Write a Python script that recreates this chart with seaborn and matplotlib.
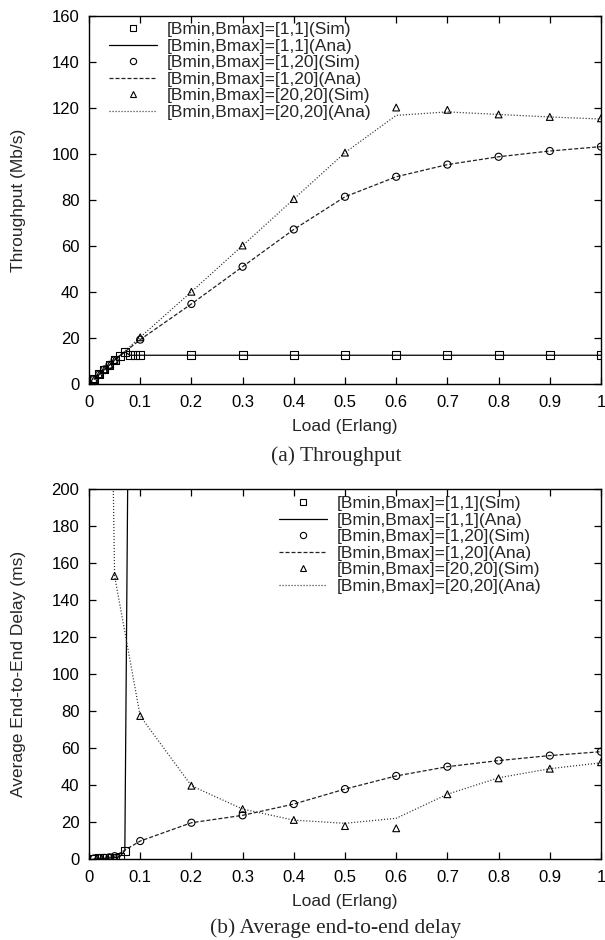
import matplotlib
matplotlib.use("Agg")
import matplotlib.pyplot as plt
from matplotlib.lines import Line2D
import seaborn as sns

# ---------------- data ----------------
# offered load (Erlang)
load_fine = [0.01, 0.02, 0.03, 0.04, 0.05, 0.06, 0.07, 0.08, 0.09, 0.1,
             0.2, 0.3, 0.4, 0.5, 0.6, 0.7, 0.8, 0.9, 1.0]
load_coarse = [0.01, 0.02, 0.03, 0.04, 0.05,
               0.1, 0.2, 0.3, 0.4, 0.5, 0.6, 0.7, 0.8, 0.9, 1.0]

# throughput (Mb/s)
thr_1_1_sim = [2.1, 4.2, 6.3, 8.3, 10.4, 12.3, 14.0, 12.5, 12.5, 12.5,
               12.5, 12.5, 12.5, 12.5, 12.5, 12.5, 12.5, 12.5, 12.5]
thr_1_1_ana = [2.1, 4.2, 6.3, 8.3, 10.4, 12.3, 14.0, 12.5, 12.5, 12.5,
               12.5, 12.5, 12.5, 12.5, 12.5, 12.5, 12.5, 12.5, 12.5]
thr_1_20_sim = [2.1, 4.2, 6.3, 8.3, 10.4,
                19.3, 34.8, 51.0, 67.2, 81.4, 90.1, 95.4, 98.8, 101.3, 103.2]
thr_1_20_ana = [2.1, 4.2, 6.3, 8.3, 10.4,
                19.3, 34.8, 51.0, 67.2, 81.4, 90.1, 95.4, 98.8, 101.3, 103.2]
thr_20_20_sim = [2.1, 4.2, 6.3, 8.3, 10.4,
                 20.3, 40.1, 60.2, 80.4, 100.6, 120.2, 119.2, 117.2, 116.1, 115.5]
thr_20_20_ana = [2.1, 4.2, 6.3, 8.3, 10.4,
                 20.3, 40.1, 60.2, 80.4, 100.6, 116.8, 118.3, 117.2, 116.1, 115.2]

# average end-to-end delay (ms)
load_dly_1_1_sim = [0.01, 0.02, 0.03, 0.04, 0.05, 0.06, 0.07]
dly_1_1_sim = [0.3, 0.35, 0.4, 0.5, 0.7, 1.2, 4.5]
load_dly_1_1_ana = [0.01, 0.02, 0.03, 0.04, 0.05, 0.06, 0.07, 0.08, 0.09, 0.1]
dly_1_1_ana = [0.3, 0.35, 0.4, 0.5, 0.7, 1.2, 4.5, 360.0, 900.0, 1500.0]
dly_1_20_sim = [0.3, 0.4, 0.6, 0.9, 1.5,
                9.7, 19.6, 23.6, 29.7, 37.8, 44.9, 49.9, 53.2, 55.9, 58.0]
dly_1_20_ana = [0.3, 0.4, 0.6, 0.9, 1.5,
                9.7, 19.6, 23.6, 29.7, 37.8, 44.9, 49.9, 53.2, 55.9, 58.0]
dly_20_20_sim = [1400.0, 900.0, 560.0, 340.0, 153.0,
                 77.3, 39.6, 27.0, 21.1, 17.8, 16.6, 35.0, 43.6, 48.8, 52.3]
dly_20_20_ana = [1400.0, 900.0, 560.0, 340.0, 153.0,
                 77.3, 39.6, 27.0, 21.0, 19.3, 22.0, 35.0, 43.9, 48.8, 52.0]

labels = ["[Bmin,Bmax]=[1,1](Sim)", "[Bmin,Bmax]=[1,1](Ana)",
          "[Bmin,Bmax]=[1,20](Sim)", "[Bmin,Bmax]=[1,20](Ana)",
          "[Bmin,Bmax]=[20,20](Sim)", "[Bmin,Bmax]=[20,20](Ana)"]
x_ticks = [0, 0.1, 0.2, 0.3, 0.4, 0.5, 0.6, 0.7, 0.8, 0.9, 1]
x_ticklabels = ["0", "0.1", "0.2", "0.3", "0.4", "0.5", "0.6", "0.7", "0.8", "0.9", "1"]

# ---------------- style ----------------
sns.set_style("ticks")
plt.rcParams["font.family"] = ["Liberation Sans", "DejaVu Sans"]
plt.rcParams["axes.linewidth"] = 1.0

LS_SOLID = "-"
LS_DASH = (0, (3.2, 1.6))
LS_DOT = (0, (0.9, 1.5))
MARK = {"s": 32, "o": 26, "^": 24}

fig = plt.figure(figsize=(6.05, 9.4), dpi=100)
W, H = 605.0, 940.0
ax_thr = fig.add_axes([89 / W, 1 - 384 / H, 512 / W, 368 / H])
ax_dly = fig.add_axes([89 / W, 1 - 859 / H, 512 / W, 370 / H])


def draw_series(ax, xs, ys, xa, ya, marker, ls, color):
    sns.lineplot(x=xa, y=ya, ax=ax, color=color, linewidth=0.9,
                 linestyle=ls, estimator=None, sort=False, zorder=2)
    sns.scatterplot(x=xs, y=ys, ax=ax, marker=marker, s=MARK[marker],
                    facecolor="none", edgecolor="black", linewidth=0.8,
                    zorder=3, legend=False)


def legend_handles():
    mk = dict(ls="none", mfc="none", mec="black", mew=0.8)
    return [
        Line2D([], [], marker="s", ms=5.0, **mk),
        Line2D([], [], color="black", lw=0.9, ls=LS_SOLID),
        Line2D([], [], marker="o", ms=4.5, **mk),
        Line2D([], [], color="#222222", lw=0.9, ls=LS_DASH),
        Line2D([], [], marker="^", ms=4.5, **mk),
        Line2D([], [], color="#333333", lw=0.9, ls=LS_DOT),
    ]


def finish(ax, ymax, ystep, ylabel, anchor):
    ax.set_xlim(0, 1)
    ax.set_ylim(0, ymax)
    ax.set_xticks(x_ticks)
    ax.set_xticklabels(x_ticklabels)
    ax.set_yticks(list(range(0, ymax + 1, ystep)))
    ax.tick_params(direction="in", length=5, width=0.9, top=True, right=True,
                   labelsize=12, colors="black")
    ax.tick_params(axis="x", pad=8)
    ax.tick_params(axis="y", pad=7)
    for s in ax.spines.values():
        s.set_visible(True)
        s.set_color("black")
    ax.set_xlabel("Load (Erlang)", fontsize=12.5)
    ax.set_ylabel(ylabel, fontsize=12.5)
    ax.xaxis.set_label_coords(0.5, -0.095)
    ax.yaxis.set_label_coords(-0.123, 0.5)
    ax.legend(legend_handles(), labels, loc="upper left", bbox_to_anchor=anchor,
              frameon=False, fontsize=12.5, handlelength=2.75, handletextpad=0.55,
              labelspacing=0.08, borderpad=0.0, borderaxespad=0.0, numpoints=1)


# throughput panel
draw_series(ax_thr, load_fine, thr_1_1_sim, load_fine, thr_1_1_ana, "s", LS_SOLID, "black")
draw_series(ax_thr, load_coarse, thr_1_20_sim, load_coarse, thr_1_20_ana, "o", LS_DASH, "#222222")
draw_series(ax_thr, load_coarse, thr_20_20_sim, load_coarse, thr_20_20_ana, "^", LS_DOT, "#333333")
finish(ax_thr, 160, 20, "Throughput (Mb/s)", (0.04, 0.984))

# delay panel
draw_series(ax_dly, load_dly_1_1_sim, dly_1_1_sim, load_dly_1_1_ana, dly_1_1_ana, "s", LS_SOLID, "black")
draw_series(ax_dly, load_coarse, dly_1_20_sim, load_coarse, dly_1_20_ana, "o", LS_DASH, "#222222")
draw_series(ax_dly, load_coarse, dly_20_20_sim, load_coarse, dly_20_20_ana, "^", LS_DOT, "#333333")
finish(ax_dly, 200, 20, "Average End-to-End Delay (ms)", (0.372, 0.981))

# sub-figure captions
fig.text(336 / W, 1 - 456 / H, "(a) Throughput", ha="center", va="center",
         fontsize=15.5, family=["Liberation Serif", "DejaVu Serif"])
fig.text(336 / W, 1 - 928 / H, "(b) Average end-to-end delay", ha="center", va="center",
         fontsize=15.5, family=["Liberation Serif", "DejaVu Serif"])

fig.savefig("out.png", dpi=100)
